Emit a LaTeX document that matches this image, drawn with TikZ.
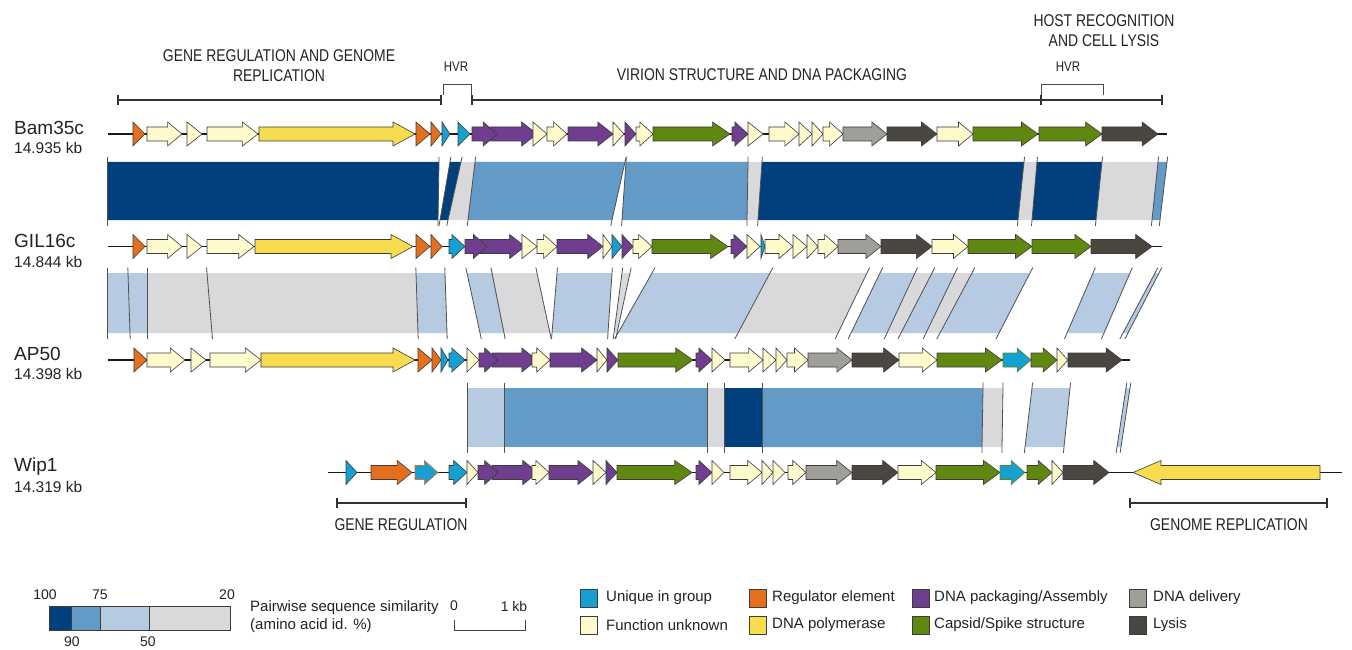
\documentclass[tikz,border=0pt]{standalone}
\usepackage{fontspec}
\setmainfont{Liberation Sans}
\newfontfamily\narrow[FakeStretch=0.82]{Liberation Sans}
\usetikzlibrary{calc}
\definecolor{cUnique}{RGB}{22,160,210}
\definecolor{cReg}{RGB}{228,112,30}
\definecolor{cPack}{RGB}{112,62,142}
\definecolor{cUnk}{RGB}{255,250,204}
\definecolor{cPol}{RGB}{248,220,80}
\definecolor{cCap}{RGB}{96,136,16}
\definecolor{cDel}{RGB}{160,158,152}
\definecolor{cLys}{RGB}{74,70,64}
\definecolor{outl}{RGB}{60,60,60}
\definecolor{bDk}{RGB}{1,63,125}
\definecolor{bMd}{RGB}{100,154,198}
\definecolor{bLt}{RGB}{182,202,226}
\definecolor{bGy}{RGB}{217,217,220}
\definecolor{sepc}{RGB}{80,80,80}
\definecolor{txt}{RGB}{35,35,35}
\tikzset{
  gene/.style={draw=outl, line width=0.6pt, line join=miter},
  gU/.style={gene, fill=cUnique},
  gUo/.style={gene, fill=cUnique, draw=cReg},
  gUg/.style={gene, fill=cUnique, draw=cCap},
  gR/.style={gene, fill=cReg},
  gP/.style={gene, fill=cPack},
  gF/.style={gene, fill=cUnk},
  gY/.style={gene, fill=cPol},
  gC/.style={gene, fill=cCap},
  gD/.style={gene, fill=cDel},
  gL/.style={gene, fill=cLys},
  gline/.style={line width=1.3pt, draw=black!90},
  sepl/.style={draw=sepc, line width=0.8pt},
  brk/.style={line width=1.3pt, draw=black!80},
  hbrk/.style={line width=0.8pt, draw=black!70},
  lab/.style={font=\narrow\fontsize{17}{20}\selectfont, text=txt, inner sep=0pt, align=center},
  hvr/.style={font=\narrow\fontsize{14}{16}\selectfont, text=txt, inner sep=0pt},
  gname/.style={font=\fontsize{19}{22}\selectfont, text=txt, inner sep=0pt, anchor=west},
  gsize/.style={font=\fontsize{15.5}{18}\selectfont, text=txt, inner sep=0pt, anchor=west},
  leg/.style={font=\fontsize{15}{17}\selectfont, text=txt, inner sep=0pt, anchor=west},
  legnum/.style={font=\fontsize{14}{16}\selectfont, text=txt, inner sep=0pt},
  legbox/.style={draw=outl, line width=0.6pt, minimum width=17pt, minimum height=18pt, inner sep=0pt}
}
% forward gene arrow: x1, x2, y, style
\newcommand\gn[4]{%
  \pgfmathsetmacro\gl{#2-#1}%
  \pgfmathsetmacro\gh{\gl<15.5 ? \gl : min(22,12+0.07*\gl)}%
  \pgfmathsetmacro\gx{#2-\gh}%
  \path[#4] (#1,#3-7) -- (\gx,#3-7) -- (\gx,#3-12) -- (#2,#3) -- (\gx,#3+12) -- (\gx,#3+7) -- (#1,#3+7) -- cycle;}
% reverse gene arrow: head x, tail x, y, style
\newcommand\gnr[4]{%
  \path[#4] (#1,#3) -- (#1+28,#3-12) -- (#1+28,#3-7) -- (#2,#3-7) -- (#2,#3+7) -- (#1+28,#3+7) -- (#1+28,#3+12) -- cycle;}
% band segment: xt1, xb1, xt2, xb2, colour
\newcommand\bs[5]{\fill[#5] (#1,\bT) -- (#3,\bT) -- (#4,\bB) -- (#2,\bB) -- cycle;}
\newcommand\sep[2]{\draw[sepl] ($(#1,\bT)!-0.09!(#2,\bB)$) -- ($(#1,\bT)!1.1!(#2,\bB)$);}
\begin{document}
\begin{tikzpicture}[x=1pt,y=-1pt]
\useasboundingbox (0,0) rectangle (1352,650);
\fill[white] (0,0) rectangle (1352,650);

% ---------------- header ----------------
\node[lab] (hGR) at (279,66) {GENE REGULATION AND GENOME\\REPLICATION};
\node[hvr] (hH1) at (456,67) {HVR};
\node[lab] (hVS) at (762,75) {VIRION STRUCTURE AND DNA PACKAGING};
\node[lab] (hHR) at (1104,31) {HOST RECOGNITION\\AND CELL LYSIS};
\node[hvr] (hH2) at (1068,67) {HVR};
\draw[brk] (118,100) -- (441,100);
\draw[brk] (118,95) -- (118,105);
\draw[brk] (441,95) -- (441,105);
\draw[brk] (472,100) -- (1162,100);
\draw[brk] (472,95) -- (472,105);
\draw[brk] (1041,95) -- (1041,105);
\draw[brk] (1162,95) -- (1162,105);
\draw[hbrk] (443,95) -- (443,84) -- (471,84) -- (471,95);
\draw[hbrk] (1041,95) -- (1041,84) -- (1103,84) -- (1103,95);

% ---------------- genome names ----------------
\node[gname] (n1) at (14,128) {Bam35c};
\node[gsize] (s1) at (14,148) {14.935 kb};
\node[gname] (n2) at (14,241) {GIL16c};
\node[gsize] (s2) at (14,262) {14.844 kb};
\node[gname] (n3) at (14,354) {AP50};
\node[gsize] (s3) at (14,374) {14.398 kb};
\node[gname] (n4) at (14,467) {Wip1};
\node[gsize] (s4) at (14,487) {14.319 kb};

% ---------------- band 1 ----------------
\def\bT{162}\def\bB{220}
\bs{107}{107}{439}{438}{bDk}
\bs{450}{440}{461}{448}{bDk}
\bs{461}{448}{475}{468}{bGy}
\bs{475}{468}{625}{612}{bMd}
\bs{626}{622}{748}{747}{bMd}
\bs{748}{747}{762}{758}{bGy}
\bs{762}{758}{1024}{1018}{bDk}
\bs{1024}{1018}{1037}{1032}{bGy}
\bs{1037}{1032}{1102}{1096}{bDk}
\bs{1102}{1096}{1158}{1152}{bGy}
\bs{1158}{1152}{1167}{1160}{bMd}
\foreach \a/\b in {107/107,439/438,450/440,461/448,475/468,625/612,626/622,748/747,762/758,1024/1018,1037/1032,1102/1096,1158/1152,1167/1160} {\sep{\a}{\b}}

% ---------------- band 2 ----------------
\def\bT{273}\def\bB{333}
\bs{107}{107}{128}{130}{bLt}
\bs{128}{130}{147}{147}{bLt}
\bs{147}{147}{207}{212}{bGy}
\bs{207}{212}{416}{418}{bGy}
\bs{416}{418}{445}{447}{bLt}
\bs{467}{480}{492}{504}{bLt}
\bs{492}{504}{537}{550}{bGy}
\bs{557}{552}{612}{608}{bLt}
\bs{622}{614}{630}{617}{bGy}
\bs{652}{618}{770}{738}{bLt}
\bs{770}{738}{867}{838}{bGy}
\bs{880}{851}{915}{887}{bLt}
\bs{915}{887}{932}{901}{bGy}
\bs{932}{901}{955}{926}{bLt}
\bs{955}{926}{972}{940}{bGy}
\bs{972}{940}{1030}{999}{bLt}
\bs{1093}{1067}{1130}{1104}{bLt}
\bs{1155}{1123}{1159}{1128}{bLt}
\foreach \a/\b in {107/107,128/130,147/147,207/212,416/418,445/447,467/480,492/504,537/550,557/552,612/608,622/614,630/617,652/618,770/738,867/838,880/851,915/887,932/901,955/926,972/940,1030/999,1093/1067,1130/1104,1155/1123,1159/1128} {\sep{\a}{\b}}

% ---------------- band 3 ----------------
\def\bT{388}\def\bB{447}
\bs{467}{467}{504}{504}{bLt}
\bs{504}{504}{707}{707}{bMd}
\bs{707}{707}{724}{724}{bGy}
\bs{724}{724}{762}{762}{bDk}
\bs{762}{762}{983}{982}{bMd}
\bs{983}{982}{1003}{1002}{bGy}
\bs{1032}{1025}{1070}{1064}{bLt}
\bs{1126}{1117}{1130}{1121}{bLt}
\foreach \a/\b in {467/467,504/504,707/707,724/724,762/762,983/982,1003/1002,1032/1025,1070/1064,1126/1117,1130/1121} {\sep{\a}{\b}}

% ---------------- row 1: Bam35c ----------------
\def\y{134}
\draw[gline] (108,\y) -- (1167,\y);
\gn{133}{145}{\y}{gR}
\gn{147}{182}{\y}{gF}
\gn{187}{202}{\y}{gF}
\gn{207}{258}{\y}{gF}
\gn{259}{415}{\y}{gY}
\gn{416}{430}{\y}{gR}
\gn{431}{441}{\y}{gR}
\gn{442}{450}{\y}{gU}
\gn{458}{470}{\y}{gU}
\gn{490}{537}{\y}{gP}
\gn{472}{497}{\y}{gP}
\gn{533}{547}{\y}{gF}
\gn{547}{567}{\y}{gF}
\gn{568}{613}{\y}{gP}
\gn{613}{624}{\y}{gF}
\gn{625}{636}{\y}{gP}
\gn{636}{653}{\y}{gF}
\gn{653}{730}{\y}{gC}
\gn{732}{748}{\y}{gP}
\gn{748}{763}{\y}{gF}
\gn{769}{799}{\y}{gF}
\gn{799}{812}{\y}{gF}
\gn{812}{823}{\y}{gF}
\gn{823}{843}{\y}{gF}
\gn{843}{887}{\y}{gD}
\gn{887}{937}{\y}{gL}
\gn{937}{973}{\y}{gF}
\gn{973}{1038}{\y}{gC}
\gn{1039}{1102}{\y}{gC}
\gn{1102}{1158}{\y}{gL}

% ---------------- row 2: GIL16c ----------------
\def\y{246.5}
\draw[gline] (108,\y) -- (1162,\y);
\gn{133}{145}{\y}{gR}
\gn{147}{182}{\y}{gF}
\gn{187}{202}{\y}{gF}
\gn{207}{254}{\y}{gF}
\gn{255}{413}{\y}{gY}
\gn{416}{430}{\y}{gR}
\gn{431}{442}{\y}{gR}
\gn{449}{465}{\y}{gU}
\gn{478}{525}{\y}{gP}
\gn{465}{487}{\y}{gP}
\gn{522}{537}{\y}{gF}
\gn{537}{557}{\y}{gF}
\gn{557}{603}{\y}{gP}
\gn{603}{612}{\y}{gF}
\gn{612}{622}{\y}{gU}
\gn{622}{633}{\y}{gP}
\gn{633}{652}{\y}{gF}
\gn{652}{728}{\y}{gC}
\gn{731}{747}{\y}{gP}
\gn{747}{760}{\y}{gF}
\gn{761}{765}{\y}{gU}
\gn{765}{793}{\y}{gF}
\gn{793}{807}{\y}{gF}
\gn{807}{818}{\y}{gF}
\gn{818}{838}{\y}{gF}
\gn{838}{881}{\y}{gD}
\gn{881}{932}{\y}{gL}
\gn{932}{968}{\y}{gF}
\gn{968}{1032}{\y}{gC}
\gn{1032}{1091}{\y}{gC}
\gn{1091}{1152}{\y}{gL}

% ---------------- row 3: AP50 ----------------
\def\y{360}
\draw[gline] (108,\y) -- (1130,\y);
\gn{134}{147}{\y}{gR}
\gn{147}{185}{\y}{gF}
\gn{191}{206}{\y}{gF}
\gn{210}{261}{\y}{gF}
\gn{261}{415}{\y}{gY}
\gn{418}{432}{\y}{gR}
\gn{432}{441}{\y}{gR}
\gn{441}{448}{\y}{gU}
\gn{449}{465}{\y}{gU}
\gn{467}{479}{\y}{gF}
\gn{492}{537}{\y}{gP}
\gn{479}{498}{\y}{gP}
\gn{532}{550}{\y}{gF}
\gn{550}{597}{\y}{gP}
\gn{597}{607}{\y}{gF}
\gn{607}{618}{\y}{gP}
\gn{618}{693}{\y}{gC}
\gn{696}{712}{\y}{gP}
\gn{712}{725}{\y}{gF}
\gn{730}{763}{\y}{gF}
\gn{763}{776}{\y}{gF}
\gn{776}{787}{\y}{gF}
\gn{787}{808}{\y}{gF}
\gn{808}{852}{\y}{gD}
\gn{852}{899}{\y}{gL}
\gn{899}{937}{\y}{gF}
\gn{937}{1002}{\y}{gC}
\gn{1003}{1031}{\y}{gUg}
\gn{1031}{1057}{\y}{gC}
\gn{1057}{1068}{\y}{gF}
\gn{1068}{1122}{\y}{gL}

% ---------------- row 4: Wip1 ----------------
\def\y{472.5}
\draw[gline] (328,\y) -- (1342,\y);
\gn{346}{357}{\y}{gU}
\gn{371}{412}{\y}{gR}
\gn{415}{438}{\y}{gUo}
\gn{449}{467}{\y}{gU}
\gn{467}{478}{\y}{gF}
\gn{492}{538}{\y}{gP}
\gn{478}{498}{\y}{gP}
\gn{532}{549}{\y}{gF}
\gn{549}{593}{\y}{gP}
\gn{593}{606}{\y}{gF}
\gn{606}{617}{\y}{gP}
\gn{617}{692}{\y}{gC}
\gn{696}{712}{\y}{gP}
\gn{712}{724}{\y}{gF}
\gn{730}{762}{\y}{gF}
\gn{762}{773}{\y}{gF}
\gn{773}{785}{\y}{gF}
\gn{788}{806}{\y}{gF}
\gn{806}{852}{\y}{gD}
\gn{852}{898}{\y}{gL}
\gn{898}{936}{\y}{gF}
\gn{936}{1000}{\y}{gC}
\gn{1000}{1025}{\y}{gUg}
\gn{1027}{1052}{\y}{gC}
\gn{1052}{1063}{\y}{gF}
\gn{1063}{1109}{\y}{gL}
\gnr{1133}{1320}{\y}{gY}

% ---------------- bottom brackets ----------------
\draw[brk] (337,503) -- (466,503);
\draw[brk] (337,498) -- (337,508);
\draw[brk] (466,498) -- (466,508);
\node[lab] (bGR) at (401,525) {GENE REGULATION};
\draw[brk] (1130,503) -- (1327,503);
\draw[brk] (1130,498) -- (1130,508);
\draw[brk] (1327,498) -- (1327,508);
\node[lab] (bRep) at (1229,525) {GENOME REPLICATION};

% ---------------- similarity legend ----------------
\fill[bDk] (49,606) rectangle (71,630);
\fill[bMd] (71,606) rectangle (100,630);
\fill[bLt] (100,606) rectangle (149,630);
\fill[bGy] (149,606) rectangle (230,630);
\draw[outl, line width=0.6pt] (49,606) rectangle (230,630);
\foreach \xx in {71,100,149} {\draw[outl, line width=0.6pt] (\xx,606) -- (\xx,630);}
\node[legnum] (l100) at (45,595) {100};
\node[legnum] (l75) at (100,595) {75};
\node[legnum] (l20) at (227,595) {20};
\node[legnum] (l90) at (72,642) {90};
\node[legnum] (l50) at (148,642) {50};
\node[leg] (pw1) at (250,608) {Pairwise sequence similarity};
\node[leg] (pw2) at (250,626) {(amino acid id. \%)};

% scale bar
\node[legnum] (sc0) at (454,606) {0};
\node[legnum] (sc1) at (514,606) {1 kb};
\draw[line width=0.8pt, draw=black!75] (454,620) -- (454,630) -- (525,630) -- (525,620);

% ---------------- function legend ----------------
\node[legbox, fill=cUnique] (k1) at (589,598) {};
\node[leg] (t1) at (606,598) {Unique in group};
\node[legbox, fill=cUnk] (k2) at (589,625) {};
\node[leg] (t2) at (606,625) {Function unknown};
\node[legbox, fill=cReg] (k3) at (757.5,598) {};
\node[leg] (t3) at (772,598) {Regulator element};
\node[legbox, fill=cPack] (k5) at (920.5,598) {};
\node[legbox, fill=cPol] (k4) at (757.5,625) {};
\node[leg] (t4) at (772,625) {DNA polymerase};
\node[leg] (t5) at (934,598) {DNA packaging/Assembly};
\node[legbox, fill=cCap] (k6) at (920.5,625) {};
\node[leg] (t6) at (934,625) {Capsid/Spike structure};
\node[legbox, fill=cDel] (k7) at (1137.5,598) {};
\node[leg] (t7) at (1153,598) {DNA delivery};
\node[legbox, fill=cLys] (k8) at (1137.5,625) {};
\node[leg] (t8) at (1153,625) {Lysis};
\end{tikzpicture}
\end{document}
